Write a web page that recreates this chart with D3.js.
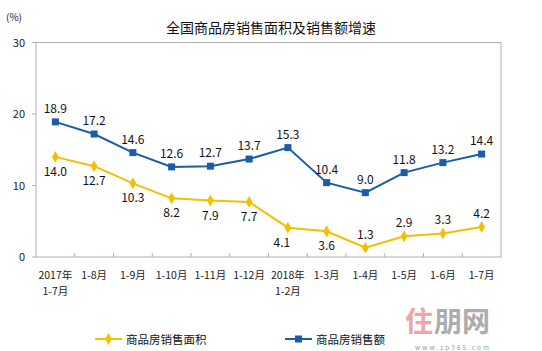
<!DOCTYPE html>
<html><head><meta charset="utf-8">
<script src="https://cdn.jsdelivr.net/npm/d3@7/dist/d3.min.js"></script>
<style>body{margin:0;background:#fff}svg{display:block}text{font-family:"SimSun","Noto Sans CJK SC",sans-serif}</style>
</head><body>
<svg id="c" width="542" height="351"></svg>
<script>
const categories = [["2017年","1-7月"],["1-8月"],["1-9月"],["1-10月"],["1-11月"],["1-12月"],["2018年","1-2月"],["1-3月"],["1-4月"],["1-5月"],["1-6月"],["1-7月"]];
const areaGrowth = [14.0,12.7,10.3,8.2,7.9,7.7,4.1,3.6,1.3,2.9,3.3,4.2];
const salesGrowth = [18.9,17.2,14.6,12.6,12.7,13.7,15.3,10.4,9.0,11.8,13.2,14.4];
const areaLabelPos = ["b","b","b","b","b","b","b","b","a","a","a","a"];
const yTicks = [0,10,20,30];
const seriesNames = ["商品房销售面积","商品房销售额"];

const svg = d3.select("#c");
const L=36,R=501,T=42.5,B=257;
const x = d3.scaleBand().domain(d3.range(categories.length)).range([L,R]);
const y = d3.scaleLinear().domain([0,30]).range([B,T]);
const cx = i => x(i)+x.bandwidth()/2;
const yellow="#F2C000", blue="#1A5CA8";

svg.append("rect").attr("x",L).attr("y",T).attr("width",R-L).attr("height",B-T)
  .attr("fill","none").attr("stroke","#b0b0b0").attr("stroke-width",1);
yTicks.forEach(t=>{
  svg.append("line").attr("x1",L-4).attr("x2",L).attr("y1",y(t)).attr("y2",y(t)).attr("stroke","#b0b0b0");
  svg.append("text").attr("x",25).attr("y",y(t)+4).attr("text-anchor","end").attr("font-size",11).attr("fill","#222").text(t);
});
for(let i=1;i<categories.length;i++){
  svg.append("line").attr("x1",x(i)).attr("x2",x(i)).attr("y1",B).attr("y2",B-4).attr("stroke","#b0b0b0");
}
categories.forEach((c,i)=>{
  c.forEach((s,j)=>{
    svg.append("text").attr("x",cx(i)).attr("y",279+j*16).attr("text-anchor","middle").attr("font-size",10.5).attr("fill","#222").text(s);
  });
});
svg.append("text").attr("x",6).attr("y",21).attr("font-size",10).attr("fill","#222").text("(%)");
svg.append("text").attr("x",271).attr("y",33).attr("text-anchor","middle").attr("font-size",14).attr("fill","#111").text("全国商品房销售面积及销售额增速");

const line = d3.line().x((d,i)=>cx(i)).y(d=>y(d));
svg.append("path").datum(areaGrowth).attr("d",line).attr("fill","none").attr("stroke",yellow).attr("stroke-width",2);
svg.append("path").datum(salesGrowth).attr("d",line).attr("fill","none").attr("stroke",blue).attr("stroke-width",2);

const diamond = d3.symbol().type(d3.symbolDiamond).size(40);
areaGrowth.forEach((v,i)=>{
  svg.append("path").attr("d",diamond).attr("transform",`translate(${cx(i)},${y(v)})`).attr("fill",yellow);
  const above = areaLabelPos[i]==="a";
  svg.append("text").attr("x",cx(i)-(i===6?6:0)).attr("y",above?y(v)-9:y(v)+19).attr("text-anchor","middle")
    .attr("font-family","Arial,'Liberation Sans',sans-serif").attr("font-size",12).attr("fill","#111").text(v.toFixed(1));
});
salesGrowth.forEach((v,i)=>{
  svg.append("rect").attr("x",cx(i)-3.5).attr("y",y(v)-3.5).attr("width",7).attr("height",7).attr("fill",blue);
  svg.append("text").attr("x",cx(i)).attr("y",y(v)-9).attr("text-anchor","middle")
    .attr("font-family","Arial,'Liberation Sans',sans-serif").attr("font-size",12).attr("fill","#111").text(v.toFixed(1));
});

const lg=[{c:yellow,x:95,m:"d"},{c:blue,x:285,m:"s"}];
lg.forEach((l,i)=>{
  svg.append("line").attr("x1",l.x).attr("x2",l.x+27).attr("y1",339).attr("y2",339).attr("stroke",l.c).attr("stroke-width",2);
  if(l.m==="d") svg.append("path").attr("d",diamond).attr("transform",`translate(${l.x+13.5},339)`).attr("fill",l.c);
  else svg.append("rect").attr("x",l.x+10).attr("y",335.5).attr("width",7).attr("height",7).attr("fill",l.c);
  svg.append("text").attr("x",l.x+31).attr("y",343.5).attr("font-size",11.5).attr("fill","#111").text(seriesNames[i]);
});
svg.append("text").attr("x",405).attr("y",332).attr("font-size",28).attr("font-weight","bold").attr("fill","#e89090").attr("opacity",0.8).text("住");
svg.append("text").attr("x",434).attr("y",332).attr("font-size",28).attr("font-weight","bold").attr("fill","#999").attr("opacity",0.8).text("朋网");
svg.append("text").attr("x",415).attr("y",350).attr("font-size",6.5).attr("letter-spacing",2).attr("fill","#999").text("www.zp365.com");
</script>
</body></html>
